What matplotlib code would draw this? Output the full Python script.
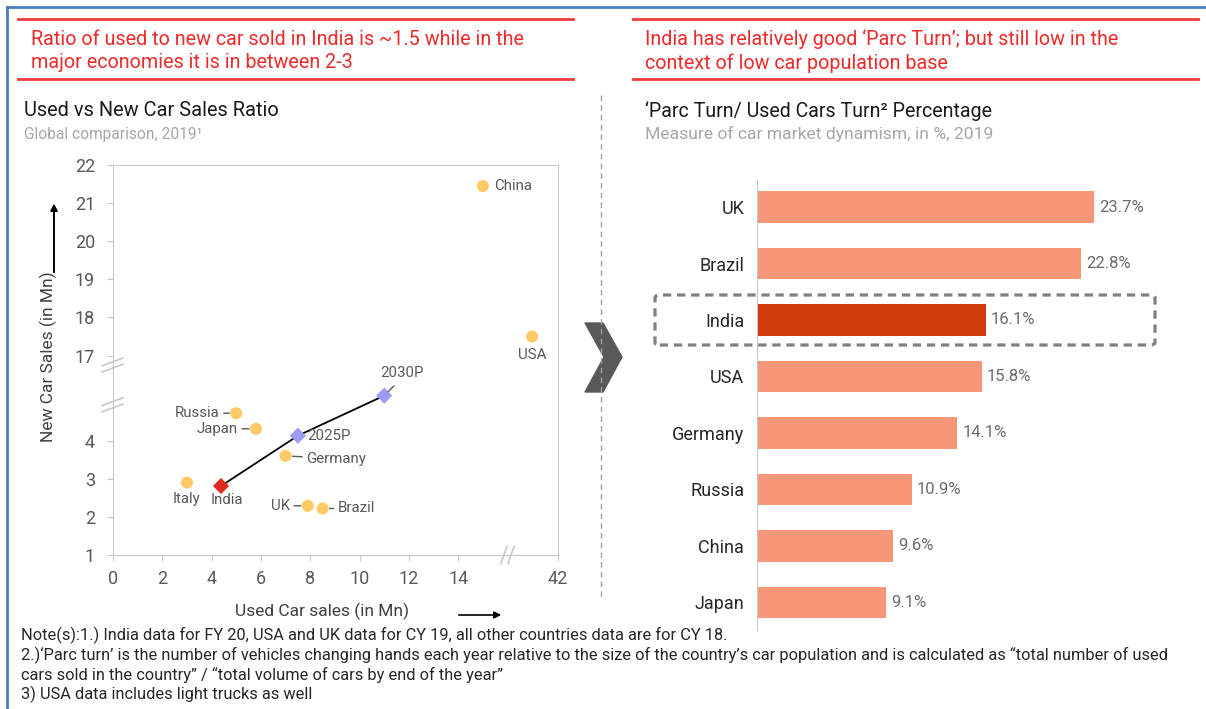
import matplotlib.pyplot as plt
import numpy as np
from matplotlib.patches import Polygon, FancyBboxPatch
from matplotlib.lines import Line2D

plt.rcParams['font.family'] = ['Roboto', 'DejaVu Sans']

# left chart: used vs new car sales (Mn)
countries = ['China', 'USA', 'Russia', 'Japan', 'Germany', 'Italy', 'UK', 'Brazil']
used_sales = [15.0, 39.9, 5.0, 5.8, 7.0, 3.0, 7.9, 8.5]
new_sales = [21.45, 17.5, 4.72, 4.31, 3.60, 2.90, 2.29, 2.22]
india_labels = ['India', '2025P', '2030P']
india_used = [4.38, 7.5, 11.0]
india_new = [2.81, 4.13, 5.18]
x_ticks = [0, 2, 4, 6, 8, 10, 12, 14, 42]
y_ticks = [1, 2, 3, 4, 17, 18, 19, 20, 21, 22]

# right chart: parc turn %
bar_countries = ['UK', 'Brazil', 'India', 'USA', 'Germany', 'Russia', 'China', 'Japan']
parc_turn = [23.7, 22.8, 16.1, 15.8, 14.1, 10.9, 9.6, 9.1]

W, H = 1206, 709
def fx(px):
    return px / W
def fy(py):
    return 1 - py / H

# broken axes done with piecewise linear scales
def x_fwd(v):
    return np.interp(v, [-10, 16, 38, 42, 80], [-10, 16, 16.05, 18.05, 37.05])
def x_inv(d):
    return np.interp(d, [-10, 16, 16.05, 18.05, 37.05], [-10, 16, 38, 42, 80])
def y_fwd(v):
    return np.interp(v, [-10, 5.6, 17, 40], [-10, 5.6, 6.23, 29.23])
def y_inv(d):
    return np.interp(d, [-10, 5.6, 6.23, 29.23], [-10, 5.6, 17, 40])

fig = plt.figure(figsize=(12.06, 7.09), dpi=100)
grey = '#595959'
red = '#EE2A2A'

# frame lines
fig.add_artist(Line2D([fx(7), 1], [fy(7), fy(7)], color='#4A7EBB', lw=2))
fig.add_artist(Line2D([fx(7), fx(7)], [fy(7), 0], color='#4A7EBB', lw=2))

# header boxes
for x0, x1 in [(18, 573), (633, 1198)]:
    for yy in [19, 79]:
        fig.add_artist(Line2D([fx(x0), fx(x1)], [fy(yy), fy(yy)], color='#F23A3A', lw=2))
fig.text(fx(31), fy(51), 'Ratio of used to new car sold in India is ~1.5 while in the\nmajor economies it is in between 2-3',
         color=red, fontsize=14.2, va='center', linespacing=1.27)
fig.text(fx(645), fy(51), 'India has relatively good \u2018Parc Turn\u2019; but still low in the\ncontext of low car population base',
         color=red, fontsize=14.2, va='center', linespacing=1.27)

# titles
fig.text(fx(24), fy(111), 'Used vs New Car Sales Ratio', fontsize=14.4, color='#1a1a1a', va='center')
fig.text(fx(24), fy(134), 'Global comparison, 2019\u00b9', fontsize=11.2, color='#A6A6A6', va='center')
fig.text(fx(645), fy(111), '\u2018Parc Turn/ Used Cars Turn\u00b2 Percentage', fontsize=14.1, color='#1a1a1a', va='center')
fig.text(fx(645), fy(134), 'Measure of car market dynamism, in %, 2019', fontsize=12.6, color='#A6A6A6', va='center')

# separator and chevron
fig.add_artist(Line2D([fx(601), fx(601)], [fy(95), fy(600)], color='#A0A0A0', lw=1, ls=(0, (4, 3))))
chev = Polygon([(fx(585), fy(323)), (fx(603), fy(323)), (fx(622), fy(357)),
                (fx(603), fy(392)), (fx(585), fy(392)), (fx(604), fy(357))],
               closed=True, transform=fig.transFigure, color='#595959')
fig.add_artist(chev)

# ---- scatter ----
ax = fig.add_axes([fx(113), fy(555), (558 - 113) / W, (555 - 165) / H])
ax.set_xscale('function', functions=(x_fwd, x_inv))
ax.set_yscale('function', functions=(y_fwd, y_inv))
ax.set_xlim(0, 42)
ax.set_ylim(1, 22)
ax.set_xticks(x_ticks)
ax.set_xticklabels([str(t) for t in x_ticks])
ax.set_yticks(y_ticks)
ax.set_yticklabels([str(t) for t in y_ticks])
ax.minorticks_off()
for s in ax.spines.values():
    s.set_color('#C8C8C8')
ax.tick_params(colors='#C8C8C8', labelcolor=grey, labelsize=13, length=4)
ax.tick_params(axis='y', pad=9)
ax.tick_params(axis='x', pad=7)

ax.plot(india_used, india_new, color='black', lw=1.3, zorder=2)
ax.scatter(used_sales, new_sales, s=75, color='#FFC966', zorder=3, edgecolor='none')
ax.scatter(india_used[1:], india_new[1:], s=68, marker='D', color='#9C9CF5', zorder=3, edgecolor='none')
ax.scatter(india_used[:1], india_new[:1], s=68, marker='D', color='#E02A1E', zorder=3, edgecolor='none')

lab_kw = dict(textcoords='offset points', fontsize=10.8, color=grey, va='center')
lead = dict(arrowstyle='-', color=grey, lw=1, shrinkA=1, shrinkB=5)
pts = dict(zip(countries, zip(used_sales, new_sales)))
pts.update(dict(zip(india_labels, zip(india_used, india_new))))
ax.annotate('China', pts['China'], xytext=(8, 0), ha='left', **lab_kw)
ax.annotate('USA', pts['USA'], xytext=(0, -13), ha='center', **lab_kw)
ax.annotate('Russia', pts['Russia'], xytext=(-12, 0), ha='right', arrowprops=lead, **lab_kw)
ax.annotate('Japan', pts['Japan'], xytext=(-13, 0), ha='right', arrowprops=lead, **lab_kw)
ax.annotate('Germany', pts['Germany'], xytext=(15, -2), ha='left', arrowprops=lead, **lab_kw)
ax.annotate('UK', pts['UK'], xytext=(-13, 0), ha='right', arrowprops=lead, **lab_kw)
ax.annotate('Brazil', pts['Brazil'], xytext=(11, 0), ha='left', arrowprops=lead, **lab_kw)
ax.annotate('Italy', pts['Italy'], xytext=(0, -12), ha='center', **lab_kw)
ax.annotate('India', pts['India'], xytext=(4, -10), ha='center', **lab_kw)
ax.annotate('2025P', pts['2025P'], xytext=(7, 0), ha='left', **lab_kw)
ax.annotate('2030P', pts['2030P'], xytext=(13, 16), ha='center', **lab_kw)
ax.annotate('', xy=pts['2030P'], xytext=(7, 7), textcoords='offset points',
            arrowprops=dict(arrowstyle='-', color=grey, lw=1, shrinkA=0, shrinkB=4))

# axis breaks
bk = dict(transform=ax.transAxes, clip_on=False, color='#C8C8C8', lw=1.2)
for yb in [0.487, 0.385]:
    ax.add_line(Line2D([-0.005, 0.005], [yb - 0.007, yb + 0.007], transform=ax.transAxes,
                       clip_on=False, color='white', lw=5))
    for d in [-0.008, 0.008]:
        ax.add_line(Line2D([-0.025, 0.022], [yb + d - 0.01, yb + d + 0.01], **bk))
xb = 16 / 18.05
ax.add_line(Line2D([xb - 0.007, xb + 0.007], [0, 0], transform=ax.transAxes,
                   clip_on=False, color='white', lw=4))
for d in [-0.008, 0.008]:
    ax.add_line(Line2D([xb + d - 0.007, xb + d + 0.007], [-0.022, 0.022], **bk))

fig.text(fx(48), fy(357), 'New Car Sales (in Mn)', rotation=90, fontsize=12.5, color='#404040',
         va='center', ha='center')
fig.text(fx(322), fy(611), 'Used Car sales (in Mn)', fontsize=12.5, color='#404040', va='center', ha='center')
fig.add_artist(plt.annotate('', xy=(fx(54), fy(201)), xytext=(fx(54), fy(275)), xycoords='figure fraction',
                            arrowprops=dict(arrowstyle='-|>', color='black', lw=1.2, mutation_scale=10)))
ax.annotate('', xy=(fx(504), fy(615)), xytext=(fx(456), fy(615)), xycoords='figure fraction',
            arrowprops=dict(arrowstyle='-|>', color='black', lw=1.2, mutation_scale=10))

# ---- bars ----
bx = fig.add_axes([fx(756.7), fy(630), 400 / W, (630 - 180) / H])
ypos = np.arange(len(bar_countries))
colors = ['#D13A0A' if c == 'India' else '#F79677' for c in bar_countries]
bx.barh(ypos, parc_turn, height=0.55, color=colors)
bx.set_ylim(7.487, -0.478)
bx.set_xlim(0, 400 / 14.24)
bx.set_yticks(ypos)
bx.set_yticklabels(bar_countries)
bx.set_xticks([])
for side in ['top', 'right', 'bottom']:
    bx.spines[side].set_visible(False)
bx.spines['left'].set_color('#C8C8C8')
bx.tick_params(axis='y', length=0, pad=9, labelsize=13, labelcolor='#262626')
for y, v in zip(ypos, parc_turn):
    bx.text(v + 0.35, y, f'{v}%', va='center', ha='left', fontsize=12, color='#6B6B6B')

box = FancyBboxPatch((fx(655), fy(345)), (1155 - 655) / W, 50 / H,
                     boxstyle='round,pad=0,rounding_size=0.004', transform=fig.transFigure,
                     fill=False, ec='#808080', lw=2.3, ls=(0, (2.6, 1.8)))
fig.add_artist(box)

# notes
notes = [
    'Note(s):1.) India data for FY 20, USA and UK data for CY 19, all other countries data are for CY 18.',
    '2.)\u2018Parc turn\u2019 is the number of vehicles changing hands each year relative to the size of the country\u2019s car population and is calculated as \u201ctotal number of used',
    'cars sold in the country\u201d / \u201ctotal volume of cars by end of the year\u201d',
    '3) USA data includes light trucks as well',
]
for yy, t in zip([635, 655, 675, 694], notes):
    fig.text(fx(21), fy(yy), t, fontsize=11.8, color='#262626', va='center')

fig.savefig('out.png', dpi=100)
